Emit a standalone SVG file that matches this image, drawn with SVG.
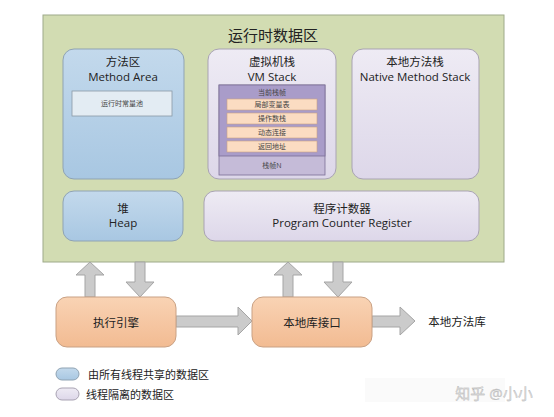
<svg xmlns="http://www.w3.org/2000/svg" width="554" height="417" viewBox="0 0 554 417">
<style>
text{font-family:"Open Sans","Noto Sans CJK SC",sans-serif;fill:#222;text-anchor:middle;dominant-baseline:central}
.t{font-size:11.5px}
.s{font-size:7px;fill:#444}
.blue{fill:url(#gb);stroke:#8fa3b3;stroke-width:1}
.lav{fill:url(#gl);stroke:#a9a3b3;stroke-width:1}
.org{fill:url(#go);stroke:#c9a184;stroke-width:1}
.arr{fill:#cbcbcb;stroke:#a5a5a5;stroke-width:1}
</style>
<defs>
<linearGradient id="gb" x1="0" y1="0" x2="0" y2="1"><stop offset="0" stop-color="#c3d9ec"/><stop offset="1" stop-color="#a8c7e2"/></linearGradient>
<linearGradient id="gl" x1="0" y1="0" x2="0" y2="1"><stop offset="0" stop-color="#eeebf4"/><stop offset="1" stop-color="#ddd7e9"/></linearGradient>
<linearGradient id="go" x1="0" y1="0" x2="0" y2="1"><stop offset="0" stop-color="#f9d3b4"/><stop offset="1" stop-color="#f2bb92"/></linearGradient>
</defs>
<rect width="554" height="417" fill="#fff"/>
<g id="runtime-area">
<rect x="43" y="15" width="461" height="247" fill="#d2dcb2" stroke="#9eaa8a" stroke-width="1"/>
<text x="273" y="35" style="font-size:15px">运行时数据区</text>
</g>
<g id="method-area">
<rect class="blue" x="63" y="49" width="121" height="130" rx="11"/>
<text class="t" x="123" y="61.5">方法区</text>
<text class="t" x="123" y="76">Method Area</text>
<rect x="72" y="91" width="100" height="25" fill="#e3ecf3" stroke="#8a9aa6" stroke-width="0.8"/>
<text class="s" x="122" y="103.5">运行时常量池</text>
</g>
<g id="vm-stack">
<rect class="lav" x="208" y="49" width="128" height="130" rx="11"/>
<text class="t" x="272" y="61.5">虚拟机栈</text>
<text class="t" x="272" y="76">VM Stack</text>
<rect x="219" y="85" width="106" height="90" fill="#c5bbd8" stroke="#7c6f96" stroke-width="0.8"/>
<rect x="219" y="85" width="106" height="71" fill="#a99cc9" stroke="#7c6f96" stroke-width="0.8"/>
<text class="s" x="272" y="92.5">当前栈帧</text>
<rect x="227" y="99" width="90" height="11" fill="#fbdcc2" stroke="#c9a184" stroke-width="0.6"/>
<text class="s" x="272" y="104.5">局部变量表</text>
<rect x="227" y="113" width="90" height="11" fill="#fbdcc2" stroke="#c9a184" stroke-width="0.6"/>
<text class="s" x="272" y="118.5">操作数栈</text>
<rect x="227" y="127" width="90" height="11" fill="#fbdcc2" stroke="#c9a184" stroke-width="0.6"/>
<text class="s" x="272" y="132.5">动态连接</text>
<rect x="227" y="141" width="90" height="11" fill="#fbdcc2" stroke="#c9a184" stroke-width="0.6"/>
<text class="s" x="272" y="146.5">返回地址</text>
<text class="s" x="272" y="165.5">栈帧N</text>
</g>
<g id="native-method-stack">
<rect class="lav" x="352" y="49" width="127" height="130" rx="11"/>
<text class="t" x="415" y="61.5">本地方法栈</text>
<text class="t" x="415" y="76">Native Method Stack</text>
</g>
<g id="heap">
<rect class="blue" x="63" y="191" width="120" height="50" rx="11"/>
<text class="t" x="123" y="208">堆</text>
<text class="t" x="123" y="222.5">Heap</text>
</g>
<g id="pc-register">
<rect class="lav" x="204" y="191" width="275" height="50" rx="11"/>
<text class="t" x="342" y="208">程序计数器</text>
<text class="t" x="342" y="222.5">Program Counter Register</text>
</g>
<g id="connectors">
<path class="arr" d="M85,297 V275 H76 L90,262 L104,275 H95 V297 Z"/>
<path class="arr" d="M135,262 V282 H126 L140,297 L154,282 H145 V262 Z"/>
<path class="arr" d="M283,297 V275 H274 L288,262 L302,275 H293 V297 Z"/>
<path class="arr" d="M333,262 V282 H324 L338,297 L352,282 H343 V262 Z"/>
<path class="arr" d="M176,316 H238 V307 L252,321 L238,335 V327 H176 Z"/>
<path class="arr" d="M372,316 H400 V307 L415,321 L400,335 V327 H372 Z"/>
</g>
<g id="execution-engine">
<rect class="org" x="56" y="297" width="120" height="50" rx="11"/>
<text class="t" x="116" y="322">执行引擎</text>
</g>
<g id="native-interface">
<rect class="org" x="252" y="297" width="120" height="50" rx="11"/>
<text class="t" x="312" y="322">本地库接口</text>
</g>
<g id="native-library">
<text class="t" x="457" y="321">本地方法库</text>
</g>
<g id="legend">
<rect x="56" y="368" width="23" height="12" rx="6" fill="url(#gb)" stroke="#8fa3b3"/>
<text x="88" y="374" style="font-size:11px;text-anchor:start">由所有线程共享的数据区</text>
<rect x="56" y="388" width="23" height="12" rx="6" fill="url(#gl)" stroke="#a9a3b3"/>
<text x="86" y="394" style="font-size:11px;text-anchor:start">线程隔离的数据区</text>
</g>
<g id="watermark">
<rect x="365" y="378" width="140" height="24" fill="#fafafa"/>
<text x="494" y="393" style="font-size:15px;fill:#ddd;stroke:#aaa;stroke-width:0.3">知乎 @小小</text>
</g>
</svg>
